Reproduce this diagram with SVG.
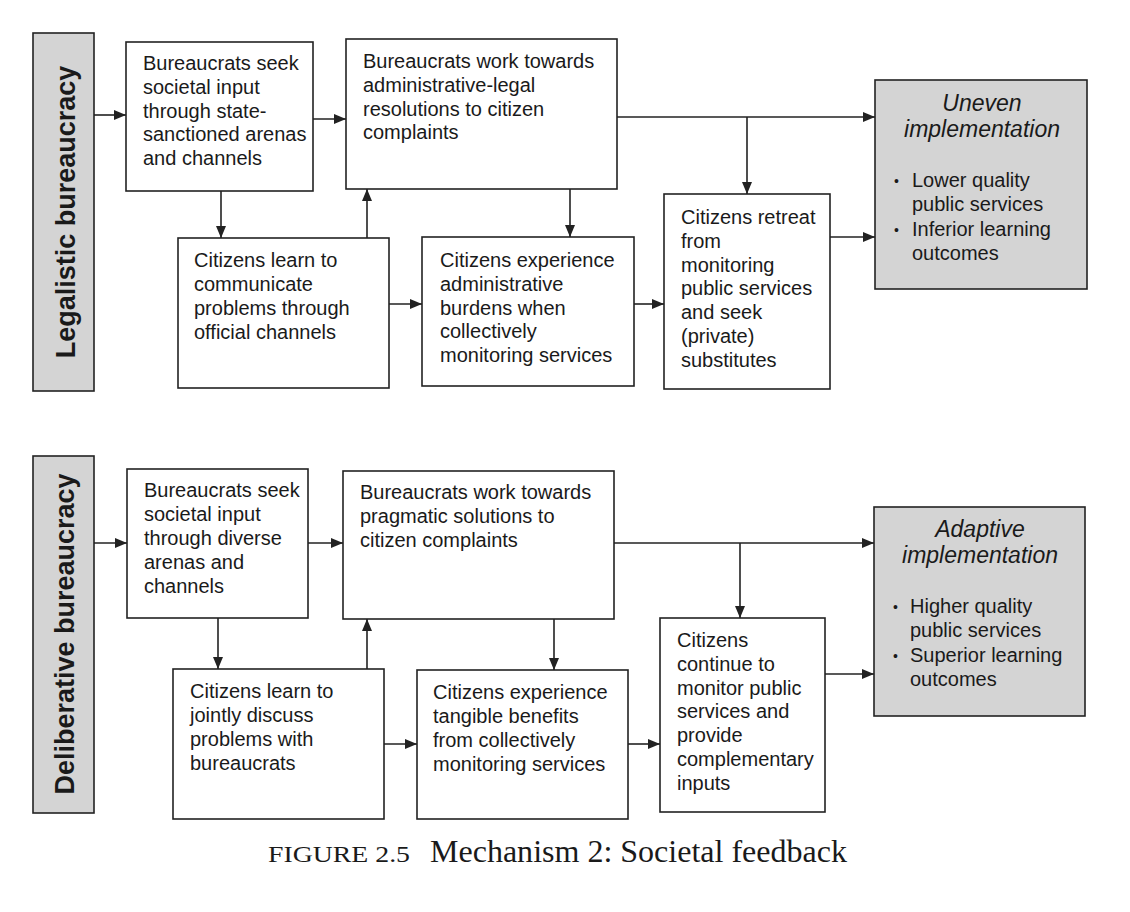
<svg xmlns="http://www.w3.org/2000/svg" width="1130" height="912" viewBox="0 0 1130 912">
<style>
.box{fill:#fff;stroke:#222;stroke-width:1.6}
.gray{fill:#d4d4d4;stroke:#222;stroke-width:1.6}
.t{font-family:"Liberation Sans",Arial,sans-serif;font-size:20px;fill:#1a1a1a}
.ti{font-family:"Liberation Sans",Arial,sans-serif;font-size:23px;font-style:italic;fill:#1a1a1a;text-anchor:middle}
.lab{font-family:"Liberation Sans",Arial,sans-serif;font-size:27px;font-weight:bold;fill:#1a1a1a;text-anchor:middle}
.bul{font-family:"Liberation Sans",Arial,sans-serif;font-size:14px;fill:#1a1a1a}
.cap{font-family:"Liberation Serif","Times New Roman",serif;fill:#1a1a1a}
.c{fill:none;stroke:#222;stroke-width:1.6;marker-end:url(#ah)}
</style>
<defs>
<marker id="ah" markerUnits="userSpaceOnUse" markerWidth="12" markerHeight="10" refX="12" refY="5" orient="auto">
<path d="M0,0 L12,5 L0,10 z" fill="#222"/>
</marker>
</defs>
<rect width="1130" height="912" fill="#fff"/>

<!-- Top panel -->
<g id="legalistic">
<rect class="gray" x="33" y="33" width="61" height="358"/>
<text class="lab" transform="translate(75,212) rotate(-90)">Legalistic bureaucracy</text>
</g>
<g id="t-seek">
<rect class="box" x="126" y="42" width="187" height="149"/>
<text class="t" x="143" y="70">Bureaucrats seek<tspan x="143" dy="23.8">societal input</tspan><tspan x="143" dy="23.8">through state-</tspan><tspan x="143" dy="23.8">sanctioned arenas</tspan><tspan x="143" dy="23.8">and channels</tspan></text>
</g>
<g id="t-work">
<rect class="box" x="346" y="39" width="271" height="150"/>
<text class="t" x="363" y="68">Bureaucrats work towards<tspan x="363" dy="23.8">administrative-legal</tspan><tspan x="363" dy="23.8">resolutions to citizen</tspan><tspan x="363" dy="23.8">complaints</tspan></text>
</g>
<g id="t-learn">
<rect class="box" x="178" y="238" width="211" height="150"/>
<text class="t" x="194" y="267">Citizens learn to<tspan x="194" dy="24">communicate</tspan><tspan x="194" dy="24">problems through</tspan><tspan x="194" dy="24">official channels</tspan></text>
</g>
<g id="t-experience">
<rect class="box" x="422" y="237" width="212" height="149"/>
<text class="t" x="440" y="267">Citizens experience<tspan x="440" dy="23.8">administrative</tspan><tspan x="440" dy="23.8">burdens when</tspan><tspan x="440" dy="23.8">collectively</tspan><tspan x="440" dy="23.8">monitoring services</tspan></text>
</g>
<g id="t-retreat">
<rect class="box" x="664" y="194" width="166" height="195"/>
<text class="t" x="681" y="224">Citizens retreat<tspan x="681" dy="23.8">from</tspan><tspan x="681" dy="23.8">monitoring</tspan><tspan x="681" dy="23.8">public services</tspan><tspan x="681" dy="23.8">and seek</tspan><tspan x="681" dy="23.8">(private)</tspan><tspan x="681" dy="23.8">substitutes</tspan></text>
</g>
<g id="t-uneven">
<rect class="gray" x="875" y="80" width="212" height="209"/>
<text class="ti" x="982" y="111">Uneven</text>
<text class="ti" x="982" y="137">implementation</text>
<text class="bul" x="894" y="186">•</text>
<text class="t" x="912" y="187">Lower quality<tspan x="912" dy="23.5">public services</tspan></text>
<text class="bul" x="894" y="235">•</text>
<text class="t" x="912" y="236">Inferior learning<tspan x="912" dy="23.5">outcomes</tspan></text>
</g>

<!-- Bottom panel -->
<g id="deliberative">
<rect class="gray" x="33" y="456" width="61" height="357"/>
<text class="lab" transform="translate(74,634) rotate(-90)">Deliberative bureaucracy</text>
</g>
<g id="b-seek">
<rect class="box" x="127" y="469" width="181" height="149"/>
<text class="t" x="144" y="497">Bureaucrats seek<tspan x="144" dy="24">societal input</tspan><tspan x="144" dy="24">through diverse</tspan><tspan x="144" dy="24">arenas and</tspan><tspan x="144" dy="24">channels</tspan></text>
</g>
<g id="b-work">
<rect class="box" x="343" y="471" width="271" height="148"/>
<text class="t" x="360" y="499">Bureaucrats work towards<tspan x="360" dy="24">pragmatic solutions to</tspan><tspan x="360" dy="24">citizen complaints</tspan></text>
</g>
<g id="b-learn">
<rect class="box" x="173" y="669" width="211" height="150"/>
<text class="t" x="190" y="698">Citizens learn to<tspan x="190" dy="24">jointly discuss</tspan><tspan x="190" dy="24">problems with</tspan><tspan x="190" dy="24">bureaucrats</tspan></text>
</g>
<g id="b-experience">
<rect class="box" x="417" y="670" width="211" height="149"/>
<text class="t" x="433" y="699">Citizens experience<tspan x="433" dy="24">tangible benefits</tspan><tspan x="433" dy="24">from collectively</tspan><tspan x="433" dy="24">monitoring services</tspan></text>
</g>
<g id="b-continue">
<rect class="box" x="660" y="618" width="165" height="194"/>
<text class="t" x="677" y="647">Citizens<tspan x="677" dy="23.8">continue to</tspan><tspan x="677" dy="23.8">monitor public</tspan><tspan x="677" dy="23.8">services and</tspan><tspan x="677" dy="23.8">provide</tspan><tspan x="677" dy="23.8">complementary</tspan><tspan x="677" dy="23.8">inputs</tspan></text>
</g>
<g id="b-adaptive">
<rect class="gray" x="874" y="507" width="211" height="209"/>
<text class="ti" x="980" y="537">Adaptive</text>
<text class="ti" x="980" y="563">implementation</text>
<text class="bul" x="893" y="612">•</text>
<text class="t" x="910" y="613">Higher quality<tspan x="910" dy="24">public services</tspan></text>
<text class="bul" x="893" y="661">•</text>
<text class="t" x="910" y="662">Superior learning<tspan x="910" dy="24">outcomes</tspan></text>
</g>

<g id="connectors">
<path class="c" d="M94,115 H126"/>
<path class="c" d="M313,119 H346"/>
<path class="c" d="M221,191 V238"/>
<path class="c" d="M367,238 V189"/>
<path class="c" d="M389,304 H422"/>
<path class="c" d="M617,117 H875"/>
<path class="c" d="M747,117 V194"/>
<path class="c" d="M570,189 V237"/>
<path class="c" d="M634,304 H664"/>
<path class="c" d="M830,237 H875"/>

<path class="c" d="M94,543 H127"/>
<path class="c" d="M308,543 H343"/>
<path class="c" d="M218,618 V669"/>
<path class="c" d="M367,669 V619"/>
<path class="c" d="M384,744 H417"/>
<path class="c" d="M614,543 H874"/>
<path class="c" d="M740,543 V618"/>
<path class="c" d="M554,619 V670"/>
<path class="c" d="M628,744 H660"/>
<path class="c" d="M825,674 H874"/>
</g>

<g id="caption">
<text class="cap" x="268" y="862" font-size="23" textLength="142" lengthAdjust="spacingAndGlyphs">FIGURE 2.5</text>
<text class="cap" x="430" y="862" font-size="31" textLength="417" lengthAdjust="spacingAndGlyphs">Mechanism 2: Societal feedback</text>
</g>
</svg>
